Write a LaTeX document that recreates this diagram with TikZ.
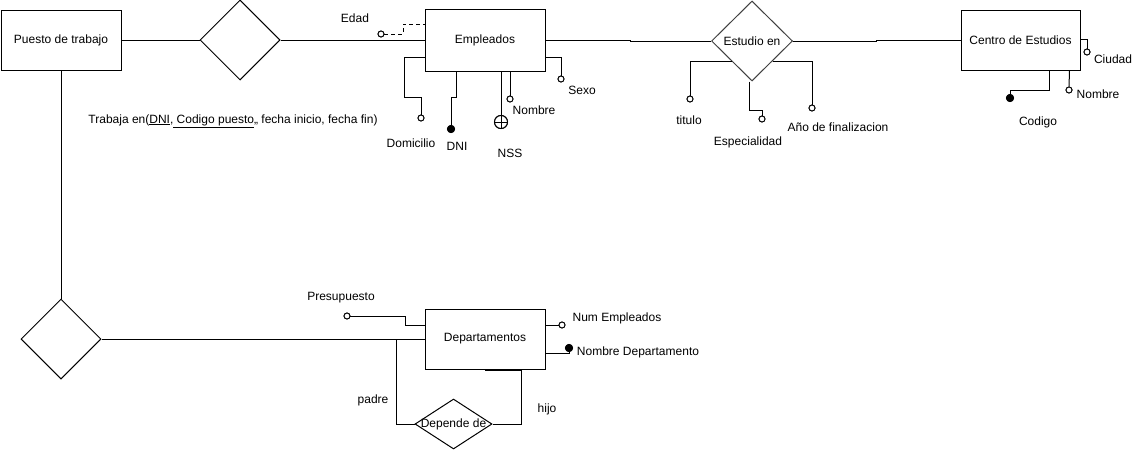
\documentclass[tikz,border=0pt]{standalone}
\usepackage{fontspec}
\setmainfont{Liberation Sans}
\usetikzlibrary{shapes.geometric}
\tikzset{
  every node/.style={font=\fontsize{12}{14}\selectfont},
  ent/.style={draw, rectangle, minimum width=120pt, minimum height=60pt, inner sep=0pt, fill=white},
  rel/.style={draw, diamond, inner sep=0pt, fill=white, minimum width=80pt, minimum height=80pt},
  oc/.style={draw, circle, fill=white, inner sep=0pt, minimum size=6pt, line width=0.9pt},
  fc/.style={draw, circle, fill=black, inner sep=0pt, minimum size=7pt},
  txt/.style={inner sep=0pt, anchor=center},
  pk/.style={draw, circle, fill=white, inner sep=0pt, minimum size=13pt,
    path picture={\draw (path picture bounding box.north) -- (path picture bounding box.south)
      (path picture bounding box.west) -- (path picture bounding box.east);}}
}
\begin{document}
\begin{tikzpicture}[x=1pt,y=-1pt,line width=1pt]
\useasboundingbox[fill=white] (0,0) rectangle (1142,450);
% connectors first (under shapes)
\coordinate (pj) at (396,339);
% entities and relationships
\node[ent] (puesto) at (61,40) {Puesto de trabajo};
\node[rel] (r1) at (240,40) {};
\node[ent, minimum height=62pt] (emp) at (485,40) {Empleados};
\node[rel, draw=black!75, minimum width=81pt, label={center:Estudio en}] (r2) at (752,41) {};
\node[ent, minimum width=119pt] (centro) at (1020.5,40) {Centro de Estudios};
\node[rel] (r3) at (61,339) {};
\node[ent] (dep) at (485,339) {Departamentos};
\node[rel, minimum width=77pt, minimum height=50pt, label={center:Depende de}] (rdep) at (453.5,424) {};
% attribute markers
\node[oc] (edadc) at (381,34) {};
\node[oc] (domc) at (421,118) {};
\node[fc] (dnic) at (451,129) {};
\node[pk] (nssc) at (501,122) {};
\node[oc] (nomc) at (510,99) {};
\node[oc] (sexc) at (561,79) {};
\node[oc] (titc) at (690,99) {};
\node[oc] (espc) at (762,119) {};
\node[oc] (anoc) at (812,108) {};
\node[oc] (ciuc) at (1087,52) {};
\node[oc] (nom2c) at (1069,90) {};
\node[fc] (codc) at (1010,98) {};
\node[oc] (presc) at (347,316) {};
\node[oc] (numc) at (562,325) {};
\node[fc] (nomdc) at (569,348) {};
% main connectors
\draw (puesto.east) -- (r1.west);
\draw (r1.east) -- (emp.west);
\draw (emp.east) -- (630,40) |- (r2.west);
\draw (r2.east) -- (876,41) |- (centro.west);
\draw (puesto.south) -- (r3.north);
\draw (r3.east) -- (dep.west);
\draw (pj) |- (rdep.west);
\draw (rdep.east) -| ([xshift=36pt,yshift=-1pt]dep.south) -- ([yshift=-1pt]dep.south);
% attribute connectors
\draw[dash pattern=on 4pt off 3pt] (edadc.east) -- (403,34) -- (403,24) -- ([yshift=16pt]emp.west);
\draw ([yshift=-17pt]emp.west) -| (404,97) -| (domc.north);
\draw ([xshift=-29pt]emp.south) -- (456,97) -| (dnic.north);
\draw ([xshift=16pt]emp.south) -- (nssc.north);
\draw ([xshift=25pt]emp.south) -- (nomc.north);
\draw ([yshift=-17pt]emp.east) -| (sexc.north);
\draw (r2.south west) -| (titc.north);
\draw ([xshift=-3pt]r2.south) -- (749,110) -| (espc.north);
\draw (r2.south east) -| (anoc.north);
\draw ([yshift=1pt]centro.east) -| (ciuc.north);
\draw ([xshift=49pt]centro.south) -- (nom2c.north);
\draw ([xshift=28.5pt]centro.south) -- (1049,90) -| (codc.north);
\draw (presc.east) -- (405,316) |- ([yshift=14pt]dep.west);
\draw ([yshift=14pt]dep.east) -- (numc.west);
\draw ([yshift=-14pt]dep.east) -| (nomdc.south);
% redraw markers on top
\node[oc] at (edadc) {};
\node[oc] at (domc) {};
\node[fc] at (dnic) {};
\node[pk] at (nssc) {};
\node[oc] at (nomc) {};
\node[oc] at (sexc) {};
\node[oc] at (titc) {};
\node[oc] at (espc) {};
\node[oc] at (anoc) {};
\node[oc] at (ciuc) {};
\node[oc] at (nom2c) {};
\node[fc] at (codc) {};
\node[oc] at (presc) {};
\node[oc] at (numc) {};
\node[fc] at (nomdc) {};
% labels
\node[txt] (l1) at (355,18) {Edad};
\node[txt] (l2) at (411,143) {Domicilio};
\node[txt] (l3) at (457,146) {DNI};
\node[txt] (l4) at (510,153) {NSS};
\node[txt] (l5) at (534,110) {Nombre};
\node[txt] (l6) at (582,90) {Sexo};
\node[txt] (l7) at (689,120) {titulo};
\node[txt] (l8) at (748,142) {Especialidad};
\node[txt] (l9) at (838,127) {Año de finalizacion};
\node[txt] (l10) at (1113,59) {Ciudad};
\node[txt] (l11) at (1098,94) {Nombre};
\node[txt] (l12) at (1038,122) {Codigo};
\node[txt] (l13) at (233,121) {Trabaja en(\underline{DNI},\underline{ Codigo puesto},, fecha inicio, fecha fin)};
\node[txt] (l14) at (341,298) {Presupuesto};
\node[txt] (l15) at (617,318) {Num Empleados};
\node[txt] (l16) at (638,352) {Nombre Departamento};
\node[txt] (l17) at (373,400) {padre};
\node[txt] (l18) at (547,409) {hijo};
\end{tikzpicture}
\end{document}
